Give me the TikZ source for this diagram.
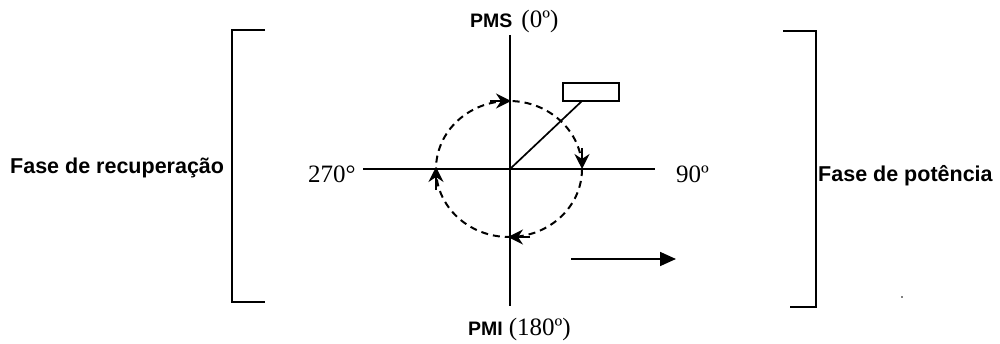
\documentclass[tikz,border=0pt]{standalone}
\usepackage{fontspec}
\setmainfont{Liberation Serif}
\setsansfont{Liberation Sans}
\usetikzlibrary{arrows.meta}
\begin{document}
\begin{tikzpicture}[x=1pt,y=-1pt,
  ln/.style={line width=1.7pt,black},
  dsh/.style={line width=2pt,dash pattern=on 7pt off 5pt},
  flow/.style={line width=1.8pt,-{Stealth[length=15pt,width=15pt,inset=5pt]}},
  big/.style={line width=1.7pt,-{Triangle[length=16pt,width=14pt]}},
  lbl/.style={inner sep=0pt,anchor=base west},
  sideL/.style={lbl,font=\sffamily\bfseries\fontsize{21.5}{26}\selectfont},
  serif/.style={lbl,font=\fontsize{25}{28}\selectfont},
  pm/.style={lbl,font=\fontsize{25}{28}\selectfont}]
\useasboundingbox (0,0) rectangle (1000,344);
% coordinates
\coordinate (O) at (510,169);
\coordinate (vt) at (510,35);
\coordinate (vb) at (510,306);
\coordinate (hl) at (363,169);
\coordinate (hr) at (655,169);
% axes
\draw[ln] (vt) -- (vb);
\draw[ln] (hl) -- (hr);
% dashed circle
\draw[dsh] (509,169) ellipse [x radius=73, y radius=68];
% flow arrows on the circle
\coordinate (t0) at (490,101); \coordinate (t1) at (511,101);
\coordinate (r0) at (582,148); \coordinate (r1) at (582,169);
\coordinate (b0) at (530,237); \coordinate (b1) at (508,237);
\coordinate (l0) at (436,190); \coordinate (l1) at (436,167);
\draw[flow] (t0) -- (t1);
\draw[flow] (r0) -- (r1);
\draw[flow] (b0) -- (b1);
\draw[flow] (l0) -- (l1);
% crank and block
\node[draw,line width=1.6pt,minimum width=56pt,minimum height=18pt,inner sep=0pt] (blk) at (591,92) {};
\coordinate (cr) at (582,101);
\draw[ln] (O) -- (cr);
% force arrow
\coordinate (f0) at (571,259); \coordinate (f1) at (676,259);
\draw[big] (f0) -- (f1);
% brackets
\draw[ln] (265,30) -- (232,30) -- (232,302) -- (265,302);
\draw[ln] (783,31) -- (816,31) -- (816,307) -- (790,307);
% small dot
\fill (902,297) circle (0.9);
% labels
\node[pm] (pms) at (470,28) {{\sffamily\bfseries\fontsize{19.5}{22}\selectfont PMS}\hspace{9pt}(0º)};
\node[pm] (pmi) at (468,335) {{\sffamily\bfseries\fontsize{19.5}{22}\selectfont PMI}\hspace{6pt}(180º)};
\node[serif] (a270) at (308,183) {270°};
\node[serif] (a90) at (676,183) {90º};
\node[sideL] (rec) at (10,174) {Fase de recupera\c{c}\~ao};
\node[sideL] (pot) at (818,182) {Fase de pot\^encia};
\end{tikzpicture}
\end{document}
